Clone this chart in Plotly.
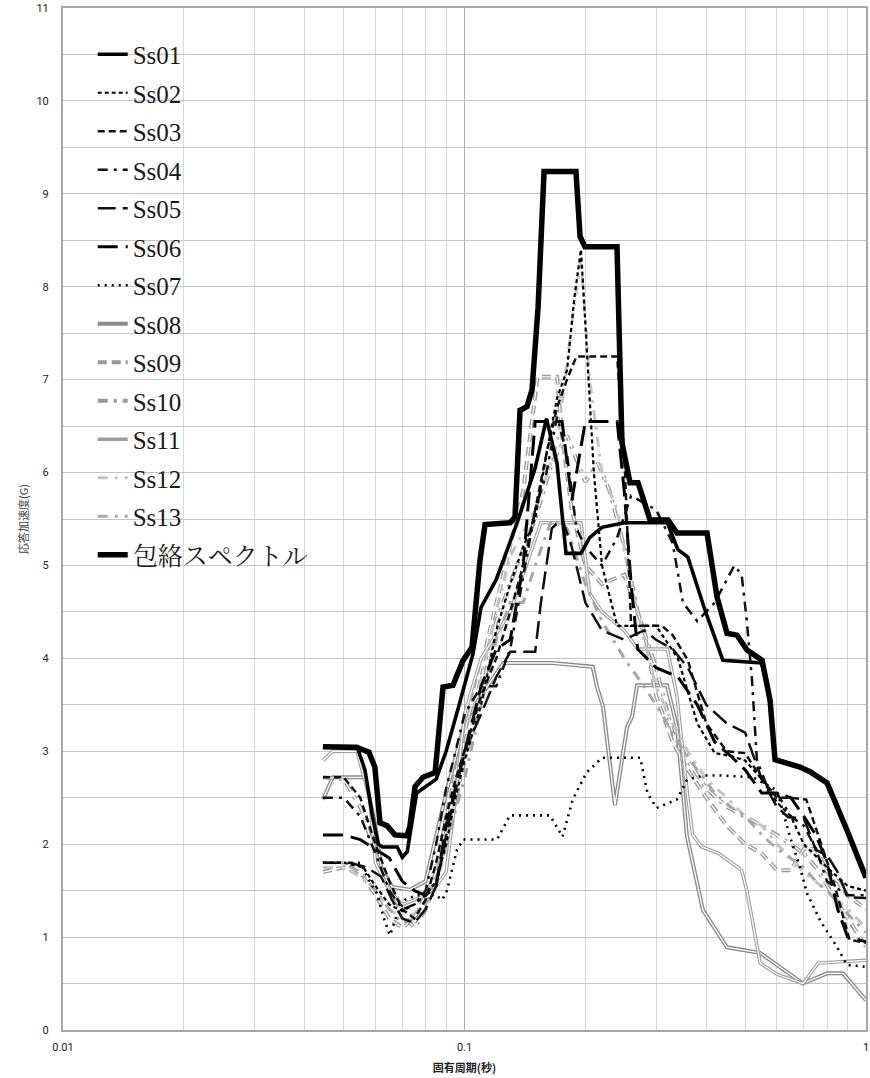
import plotly.graph_objects as go

# ---------------- data (period [s], response acceleration [G]) ----------------
env_T = [0.0444,0.0540,0.0578,0.0598,0.0616,0.0641,0.0671,0.0719,0.0731,0.0753,0.0788,0.0845,0.0884,0.0936,0.0992,0.1044,0.1093,0.1125,0.1298,0.1336,0.1375,0.1431,0.1473,0.1525,0.1578,0.1895,0.1940,0.1996,0.2398,0.2467,0.2584,0.2705,0.2898,0.3213,0.3383,0.4018,0.4255,0.4506,0.4773,0.5054,0.5508,0.5768,0.5935,0.6847,0.7253,0.7998,0.8968,1.0]
env_A = [3.05,3.04,2.99,2.83,2.23,2.20,2.10,2.09,2.19,2.62,2.72,2.77,3.69,3.71,3.98,4.12,5.06,5.44,5.46,5.52,6.67,6.71,6.89,7.78,9.24,9.24,8.54,8.43,8.43,6.32,5.89,5.89,5.49,5.49,5.35,5.35,4.66,4.27,4.25,4.09,3.98,3.55,2.91,2.83,2.78,2.66,2.15,1.64]

ss01_T = [0.0444,0.0540,0.0565,0.0590,0.0610,0.0625,0.0680,0.0700,0.0720,0.0735,0.0760,0.0850,0.0900,0.0970,0.1050,0.1100,0.1200,0.1350,0.1500,0.1600,0.1700,0.1790,0.1950,0.2050,0.2200,0.2500,0.3200,0.3400,0.3600,0.3950,0.4400,0.5500,0.5768,0.5935,0.6847,0.7253,0.7998,0.8968,1.0]
ss01_A = [3.05,3.05,2.80,2.30,2.00,1.97,1.97,1.86,1.92,2.15,2.55,2.70,3.00,3.50,4.05,4.55,4.85,5.45,6.05,6.58,6.10,5.13,5.13,5.30,5.41,5.46,5.46,5.17,5.09,4.55,3.98,3.95,3.55,2.91,2.83,2.78,2.66,2.15,1.64]

ss02_T = [0.0444,0.050,0.056,0.060,0.065,0.070,0.075,0.080,0.085,0.090,0.095,0.100,0.110,0.120,0.130,0.140,0.150,0.160,0.170,0.180,0.188,0.195,0.200,0.210,0.220,0.240,0.260,0.300,0.340,0.380,0.420,0.460,0.500,0.550,0.600,0.650,0.700,0.800,0.900,1.0]
ss02_A = [1.80,1.80,1.75,1.55,1.35,1.28,1.35,1.45,1.60,2.00,2.50,2.90,3.50,4.30,4.80,5.20,5.50,6.20,6.80,7.10,7.90,8.40,7.60,6.00,5.00,4.35,4.35,4.35,4.00,3.30,2.98,2.95,2.90,2.70,2.45,2.30,2.00,1.75,1.55,1.50]

ss03_T = [0.0444,0.050,0.055,0.060,0.065,0.070,0.075,0.080,0.085,0.090,0.095,0.100,0.105,0.110,0.120,0.130,0.140,0.150,0.160,0.170,0.180,0.190,0.240,0.250,0.260,0.310,0.330,0.360,0.400,0.450,0.500,0.550,0.600,0.650,0.710,0.760,0.830,0.910,1.0]
ss03_A = [2.72,2.72,2.50,2.00,1.60,1.30,1.20,1.40,1.80,2.30,2.70,3.00,3.30,3.60,4.00,4.50,5.00,5.60,6.20,6.70,7.00,7.25,7.25,6.20,4.35,4.35,4.25,3.98,3.30,3.00,2.98,2.70,2.50,2.50,2.48,2.10,1.60,0.97,0.94]

ss04_T = [0.0444,0.050,0.055,0.060,0.065,0.070,0.075,0.080,0.085,0.090,0.095,0.100,0.110,0.120,0.130,0.140,0.150,0.160,0.170,0.180,0.190,0.200,0.220,0.240,0.260,0.300,0.330,0.350,0.380,0.420,0.470,0.490,0.505,0.520,0.535,0.570,0.600,0.650,0.700,0.750,0.800,0.900,1.0]
ss04_A = [2.50,2.50,2.30,1.90,1.50,1.30,1.35,1.50,2.00,2.60,3.00,3.40,3.70,3.70,4.10,4.90,5.60,6.00,6.60,6.20,5.40,5.20,5.00,5.30,5.75,5.60,5.24,4.60,4.40,4.60,5.00,4.90,4.40,3.77,2.90,2.60,2.55,2.30,2.20,1.95,1.60,1.45,1.45]

ss05_T = [0.0444,0.052,0.057,0.062,0.066,0.070,0.075,0.080,0.085,0.090,0.095,0.100,0.110,0.120,0.130,0.150,0.155,0.165,0.175,0.185,0.200,0.220,0.250,0.280,0.300,0.330,0.360,0.400,0.450,0.500,0.550,0.600,0.640,0.700,0.750,0.800,0.850,0.900,1.0]
ss05_A = [1.80,1.80,1.75,1.65,1.40,1.20,1.15,1.30,1.55,2.10,2.60,3.00,3.40,3.80,4.07,4.07,4.60,5.40,5.50,5.20,4.60,4.30,4.20,4.30,4.20,4.10,3.90,3.50,3.30,3.20,2.70,2.40,2.29,2.28,1.94,1.88,1.70,1.43,1.42]

ss06_T = [0.0444,0.050,0.055,0.060,0.065,0.070,0.075,0.080,0.085,0.090,0.100,0.110,0.120,0.130,0.140,0.150,0.175,0.185,0.200,0.240,0.250,0.260,0.270,0.300,0.340,0.380,0.420,0.460,0.500,0.550,0.600,0.650,0.700,0.750,0.800,0.850,0.900,1.0]
ss06_A = [2.10,2.10,2.05,1.95,1.85,1.60,1.50,1.45,1.55,2.20,3.00,3.70,4.10,4.20,5.00,6.55,6.55,5.70,6.55,6.55,5.80,4.80,4.10,3.90,3.80,3.50,3.10,2.95,2.80,2.55,2.55,2.50,2.30,2.10,1.80,1.30,1.00,0.95]

ss07_T = [0.0444,0.0549,0.0581,0.0605,0.0630,0.0652,0.0680,0.0710,0.0760,0.0850,0.0880,0.0904,0.0958,0.0992,0.1205,0.1298,0.1633,0.1755,0.1860,0.2012,0.2200,0.2740,0.2855,0.3007,0.3380,0.3580,0.3930,0.4340,0.5230,0.5548,0.6002,0.6467,0.6850,0.7131,0.7686,0.8476,0.8968,1.0]
ss07_A = [1.80,1.80,1.60,1.47,1.20,1.02,1.25,1.40,1.45,1.45,1.40,1.50,1.94,2.05,2.05,2.31,2.31,2.08,2.48,2.77,2.93,2.93,2.55,2.39,2.48,2.69,2.74,2.74,2.72,2.66,2.58,2.08,1.75,1.47,1.18,0.89,0.70,0.68]

ss08_T = [0.0444,0.0470,0.0565,0.0600,0.0620,0.0660,0.0730,0.0800,0.0900,0.1000,0.1100,0.1250,0.1540,0.1650,0.2086,0.2136,0.2213,0.2370,0.2540,0.2614,0.2690,0.3195,0.3383,0.3583,0.3926,0.4506,0.5445,0.6967,0.7998,0.8765,1.0]
ss08_A = [2.48,2.72,2.72,2.20,1.75,1.54,1.51,1.60,2.55,3.30,3.60,3.95,3.95,3.95,3.91,3.70,3.48,2.42,3.26,3.37,3.71,3.71,3.26,2.08,1.29,0.89,0.83,0.50,0.61,0.61,0.32]

ss09_T = [0.0444,0.050,0.055,0.060,0.065,0.070,0.075,0.080,0.085,0.090,0.100,0.110,0.120,0.130,0.140,0.152,0.170,0.175,0.185,0.200,0.220,0.250,0.280,0.300,0.330,0.360,0.400,0.450,0.500,0.550,0.600,0.650,0.700,0.750,0.800,0.850,0.900,1.0]
ss09_A = [1.70,1.75,1.70,1.45,1.20,1.10,1.20,1.45,1.70,2.30,3.20,3.90,4.60,5.20,5.80,7.03,7.03,6.40,5.60,5.00,4.80,4.90,4.30,3.60,3.10,2.80,2.50,2.20,2.00,1.90,1.72,1.72,1.95,1.95,1.70,1.60,1.45,1.30]

ss10_T = [0.0444,0.050,0.055,0.060,0.065,0.070,0.075,0.080,0.085,0.090,0.100,0.110,0.120,0.135,0.150,0.165,0.180,0.200,0.215,0.230,0.250,0.270,0.300,0.330,0.360,0.400,0.450,0.500,0.550,0.600,0.650,0.700,0.750,0.800,0.900,1.0]
ss10_A = [2.72,2.70,2.40,1.90,1.55,1.25,1.10,1.30,1.60,2.00,2.90,3.60,4.40,5.00,5.50,6.10,6.40,5.90,6.10,5.80,5.20,4.50,3.90,3.20,2.90,2.60,2.40,2.30,2.20,2.10,2.00,1.90,1.75,1.55,1.20,0.90]

ss11_T = [0.0444,0.047,0.054,0.058,0.060,0.065,0.070,0.080,0.085,0.090,0.095,0.100,0.110,0.130,0.155,0.195,0.205,0.220,0.250,0.270,0.320,0.338,0.360,0.370,0.390,0.430,0.490,0.505,0.545,0.600,0.697,0.760,1.0]
ss11_A = [2.90,3.00,3.00,2.50,1.80,1.50,1.35,1.45,1.55,1.70,2.50,3.40,4.00,4.50,5.46,5.46,4.70,4.50,4.30,4.10,4.10,3.60,2.50,2.10,1.97,1.90,1.72,1.50,0.72,0.60,0.50,0.72,0.75]

ss12_T = [0.0444,0.050,0.055,0.060,0.065,0.070,0.075,0.080,0.085,0.090,0.100,0.110,0.120,0.130,0.150,0.170,0.185,0.195,0.205,0.220,0.240,0.260,0.280,0.300,0.330,0.360,0.400,0.450,0.500,0.550,0.600,0.650,0.700,0.800,0.900,1.0]
ss12_A = [1.75,1.75,1.65,1.50,1.30,1.20,1.25,1.40,1.70,2.20,3.00,3.80,4.50,5.10,5.60,6.30,7.60,8.30,7.00,6.00,5.60,4.80,4.20,3.70,3.30,3.00,2.70,2.50,2.30,2.20,2.00,1.85,1.70,1.50,1.30,1.10]

ss13_T = [0.0444,0.050,0.055,0.060,0.065,0.070,0.075,0.080,0.085,0.090,0.100,0.110,0.120,0.130,0.140,0.150,0.165,0.180,0.200,0.220,0.250,0.280,0.310,0.340,0.380,0.420,0.460,0.500,0.550,0.600,0.650,0.700,0.750,0.800,0.900,1.0]
ss13_A = [1.80,1.80,1.70,1.50,1.30,1.15,1.20,1.35,1.60,2.00,2.70,3.50,4.20,4.60,4.60,5.00,5.50,5.40,4.80,4.40,4.00,3.70,3.40,3.10,2.80,2.55,2.40,2.30,2.10,1.95,1.85,1.75,1.60,1.50,1.25,1.05]

x_tick_vals = [0.01, 0.1, 1]
x_tick_text = ["0.01", "0.1", "1"]
x_minor_vals = [0.02,0.03,0.04,0.05,0.06,0.07,0.08,0.09,0.2,0.3,0.4,0.5,0.6,0.7,0.8,0.9]

# ---------------- styling ----------------
# name, T, A, color, width, dash, double(white core), legend rank
series = [
    ("Ss08", ss08_T, ss08_A, "#8a8a8a", 4.0, "solid", True, 8),
    ("Ss09", ss09_T, ss09_A, "#999999", 4.0, "9px,5px", True, 9),
    ("Ss10", ss10_T, ss10_A, "#999999", 4.0, "10px,6px,3px,6px", True, 10),
    ("Ss11", ss11_T, ss11_A, "#9c9c9c", 3.5, "solid", True, 11),
    ("Ss12", ss12_T, ss12_A, "#c4c4c4", 3.0, "10px,7px,3px,7px", False, 12),
    ("Ss13", ss13_T, ss13_A, "#a6a6a6", 3.0, "10px,7px,3px,7px", False, 13),
    ("Ss07", ss07_T, ss07_A, "#000000", 2.6, "2px,5px", False, 7),
    ("Ss06", ss06_T, ss06_A, "#000000", 3.0, "20px,8px", False, 6),
    ("Ss05", ss05_T, ss05_A, "#111111", 2.5, "18px,7px", False, 5),
    ("Ss04", ss04_T, ss04_A, "#111111", 2.5, "10px,6px,3px,6px", False, 4),
    ("Ss03", ss03_T, ss03_A, "#111111", 2.5, "7px,4px", False, 3),
    ("Ss02", ss02_T, ss02_A, "#000000", 2.2, "4px,3px", False, 2),
    ("Ss01", ss01_T, ss01_A, "#000000", 3.6, "solid", False, 1),
    ("包絡スペクトル", env_T, env_A, "#000000", 5.5, "solid", False, 14),
]

fig = go.Figure()
for name, T, A, col, w, dash, dbl, rank in series:
    fig.add_trace(go.Scatter(
        x=T, y=A, mode="lines", name=name, legendrank=rank, legendgroup=name,
        line=dict(color=col, width=w, dash=dash),
        hoverinfo="skip"))
    if dbl:
        fig.add_trace(go.Scatter(
            x=T, y=A, mode="lines", showlegend=False, legendgroup=name,
            line=dict(color="#ffffff", width=1.3, dash=dash),
            hoverinfo="skip"))

# white box behind legend (covers the gridlines like the original)
fig.add_shape(type="rect", xref="paper", yref="paper",
              x0=0.0162, x1=0.3225, y0=0.454, y1=0.9755,
              fillcolor="white", line=dict(width=0), layer="between")

fig.update_layout(
    width=870, height=1078,
    margin=dict(l=63, r=4, t=8, b=48, autoexpand=False),
    paper_bgcolor="white", plot_bgcolor="white",
    showlegend=True,
    legend=dict(
        x=0.037, y=0.977, xanchor="left", yanchor="top",
        bgcolor="rgba(0,0,0,0)", borderwidth=0,
        font=dict(family="Liberation Serif, Noto Serif CJK JP, Noto Sans CJK JP, serif",
                  size=25, color="#1a1a1a"),
        itemwidth=30, traceorder="grouped", tracegroupgap=3,
    ),
    xaxis=dict(
        type="log", range=[-2, 0], automargin=False,
        tickvals=x_tick_vals, ticktext=x_tick_text,
        ticks="outside", ticklen=6, tickcolor="rgba(0,0,0,0)",
        showgrid=True, gridcolor="#b0b0b0", gridwidth=1.2,
        minor=dict(tickvals=x_minor_vals, showgrid=True, gridcolor="#d9d9d9", gridwidth=1.2, ticks=""),
        showline=True, linecolor="#a6a6a6", linewidth=2, mirror=True,
        tickfont=dict(family="Roboto, Liberation Sans, sans-serif", size=11, color="#222"),
        title=dict(text="<b>固有周期(秒)</b>", standoff=11,
                   font=dict(family="Noto Sans CJK JP, sans-serif", size=11, color="#222")),
        zeroline=False,
    ),
    yaxis=dict(
        range=[0, 11], dtick=1, automargin=False,
        ticks="outside", ticklen=10, tickcolor="rgba(0,0,0,0)",
        showgrid=True, gridcolor="#c6c6c6", gridwidth=1.2,
        minor=dict(dtick=0.5, showgrid=True, gridcolor="#c6c6c6", gridwidth=1.2, ticks=""),
        showline=True, linecolor="#a6a6a6", linewidth=2, mirror=True,
        tickfont=dict(family="Roboto, Liberation Sans, sans-serif", size=11, color="#222"),
        title=dict(text="応答加速度(G)", standoff=6,
                   font=dict(family="Noto Sans CJK JP, sans-serif", size=11, color="#444")),
        zeroline=False,
    ),
)

fig.write_html("out.html", config={"displayModeBar": False},
               post_script="document.body.style.margin='0';")
